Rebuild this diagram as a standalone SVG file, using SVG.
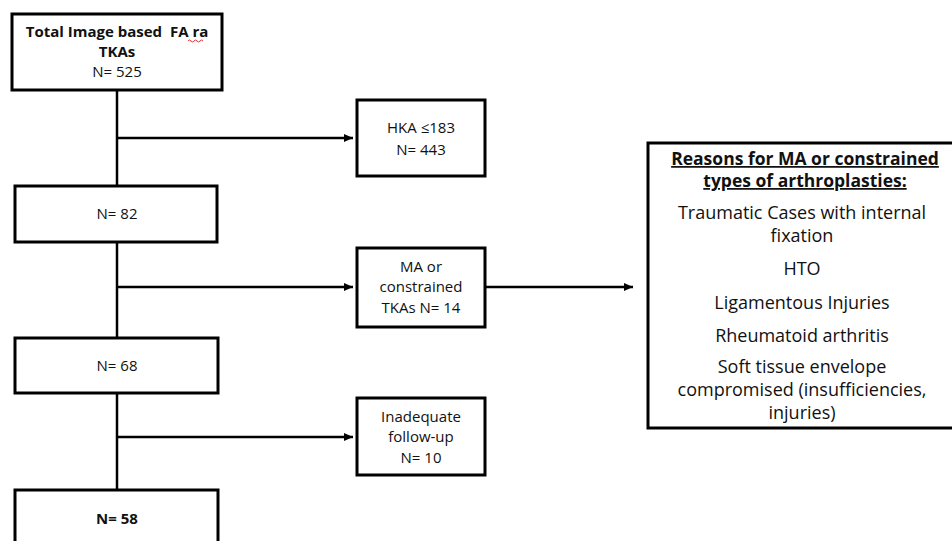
<svg xmlns="http://www.w3.org/2000/svg" width="952" height="541" viewBox="0 0 952 541">
<defs>
<style>
.box{fill:#fff;stroke:#000;stroke-width:3}
.ln{fill:none;stroke:#000;stroke-width:2.5}
.t{font-family:"Open Sans","Liberation Sans",sans-serif;font-size:15px;fill:#111;text-anchor:middle}
.b{font-weight:bold}
.r{font-family:"Open Sans","Liberation Sans",sans-serif;font-size:18px;fill:#111;text-anchor:middle}
.h{font-size:17.5px;font-weight:bold}
</style>
<marker id="ah" markerUnits="userSpaceOnUse" markerWidth="10" markerHeight="9" refX="9" refY="4" orient="auto">
<path d="M0,0 L9,4 L0,8 z" fill="#000"/>
</marker>
</defs>
<rect width="952" height="541" fill="#fff"/>
<g id="connectors">
<line class="ln" x1="117" y1="90" x2="117" y2="186"/>
<line class="ln" x1="117" y1="138" x2="353" y2="138" marker-end="url(#ah)"/>
<line class="ln" x1="117" y1="242" x2="117" y2="338"/>
<line class="ln" x1="117" y1="287" x2="353" y2="287" marker-end="url(#ah)"/>
<line class="ln" x1="485" y1="287" x2="633" y2="287" marker-end="url(#ah)"/>
<line class="ln" x1="117" y1="393" x2="117" y2="490"/>
<line class="ln" x1="117" y1="437" x2="353" y2="437" marker-end="url(#ah)"/>
</g>
<g id="n-total">
<rect class="box" x="12" y="14" width="210" height="76"/>
<text class="t b" x="117" y="37" font-size="14.5" xml:space="preserve">Total Image based  FA ra</text>
<text class="t b" x="117" y="57" font-size="14.5">TKAs</text>
<text class="t" x="117" y="77">N= 525</text>
<path d="M188,41 q1.5,-2 3,0 t3,0 t3,0 t3,0 t3,0" fill="none" stroke="#e03030" stroke-width="1"/>
</g>
<g id="n-82">
<rect class="box" x="15" y="186" width="202" height="56"/>
<text class="t" x="117" y="219">N= 82</text>
</g>
<g id="n-68">
<rect class="box" x="15" y="338" width="203" height="55"/>
<text class="t" x="117" y="371">N= 68</text>
</g>
<g id="n-58">
<rect class="box" x="15" y="490" width="203" height="60"/>
<text class="t b" x="117" y="524">N= 58</text>
</g>
<g id="n-hka">
<rect class="box" x="357" y="100" width="128" height="76"/>
<text class="t" x="421" y="133">HKA ≤183</text>
<text class="t" x="421" y="155">N= 443</text>
</g>
<g id="n-ma">
<rect class="box" x="357" y="248" width="128" height="79"/>
<text class="t" x="421" y="272">MA or</text>
<text class="t" x="421" y="292">constrained</text>
<text class="t" x="421" y="313">TKAs N= 14</text>
</g>
<g id="n-inadequate">
<rect class="box" x="357" y="398" width="128" height="77"/>
<text class="t" x="421" y="422">Inadequate</text>
<text class="t" x="421" y="442">follow-up</text>
<text class="t" x="421" y="463">N= 10</text>
</g>
<g id="n-reasons">
<rect class="box" x="648" y="143" width="310" height="285"/>
<text class="r h" x="805" y="165" text-decoration="underline">Reasons for MA or constrained</text>
<text class="r h" x="805" y="187" text-decoration="underline">types of arthroplasties:</text>
<text class="r" x="802" y="219">Traumatic Cases with internal</text>
<text class="r" x="802" y="242">fixation</text>
<text class="r" x="802" y="275">HTO</text>
<text class="r" x="802" y="309">Ligamentous Injuries</text>
<text class="r" x="802" y="342">Rheumatoid arthritis</text>
<text class="r" x="802" y="373">Soft tissue envelope</text>
<text class="r" x="802" y="396">compromised (insufficiencies,</text>
<text class="r" x="802" y="419">injuries)</text>
</g>
</svg>
